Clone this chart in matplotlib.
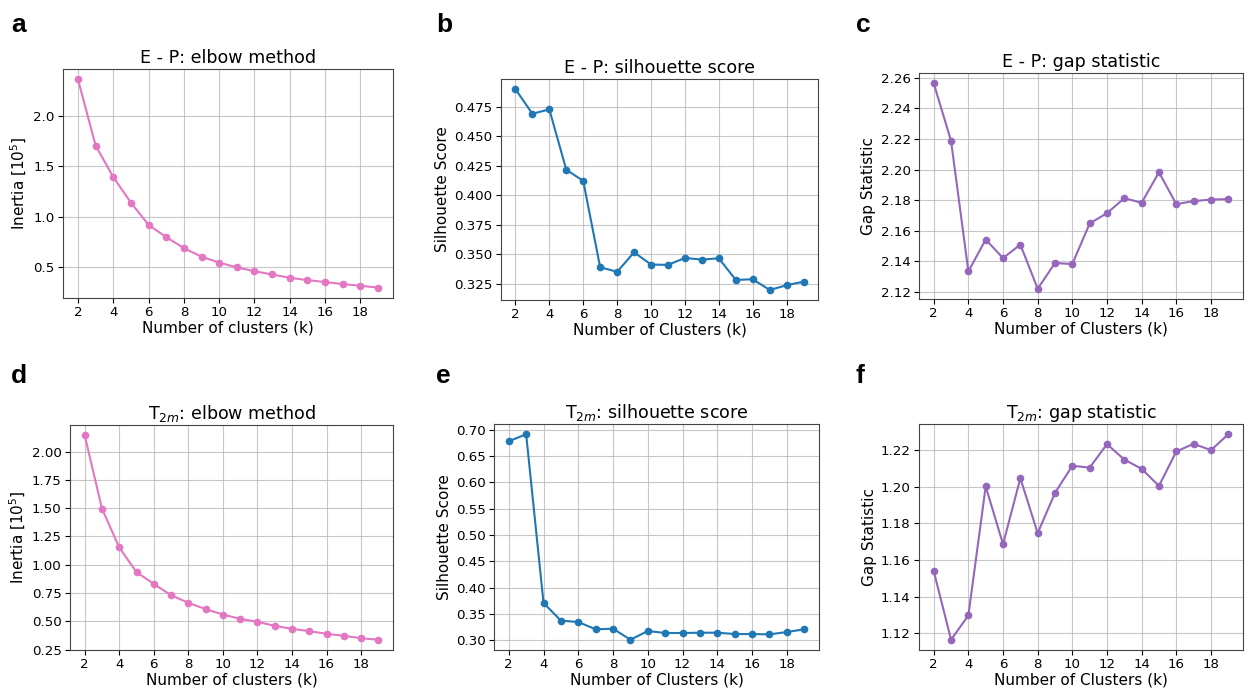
import matplotlib
matplotlib.use("Agg")
import matplotlib.pyplot as plt
from matplotlib.ticker import FormatStrFormatter, MultipleLocator

k = list(range(2, 20))

ep_inertia = [2.36, 1.705, 1.393, 1.14, 0.92, 0.80, 0.69, 0.606, 0.547, 0.50, 0.462, 0.43,
              0.397, 0.374, 0.355, 0.335, 0.318, 0.30]
ep_silhouette = [0.4903, 0.4693, 0.4730, 0.4218, 0.4122, 0.3389, 0.3350, 0.3516, 0.3412, 0.3409,
                 0.3468, 0.3454, 0.3465, 0.3281, 0.3287, 0.3196, 0.3236, 0.3267]
ep_gap = [2.2563, 2.2187, 2.1335, 2.1543, 2.1422, 2.1510, 2.1222, 2.1390, 2.1383, 2.1648,
          2.1715, 2.1813, 2.1783, 2.1982, 2.1774, 2.1794, 2.1804, 2.1807]
t_inertia = [2.144, 1.496, 1.152, 0.934, 0.83, 0.730, 0.663, 0.607, 0.559, 0.521, 0.495, 0.459,
             0.433, 0.412, 0.389, 0.371, 0.350, 0.336]
t_silhouette = [0.6784, 0.6917, 0.3706, 0.3369, 0.3344, 0.3204, 0.3216, 0.3006, 0.3172, 0.3134,
                0.3134, 0.3140, 0.3140, 0.3114, 0.3114, 0.3108, 0.3153, 0.3204]
t_gap = [1.154, 1.1165, 1.1298, 1.2002, 1.1687, 1.2047, 1.1747, 1.1967, 1.2115, 1.2105, 1.2233,
         1.2149, 1.2098, 1.2005, 1.2193, 1.2235, 1.2200, 1.2287]

W, H = 1248, 691
fig = plt.figure(figsize=(W / 100, H / 100), dpi=100)

def box(l, t, r, b):
    return [l / W, 1 - b / H, (r - l) / W, (b - t) / H]

panels = [
    ("a", box(63, 69, 393, 298), ep_inertia, "#e377c2", "E - P: elbow method",
     "Inertia [10$^5$]", "Number of clusters (k)", "%.1f", 0.5),
    ("b", box(501, 79, 818, 300), ep_silhouette, "#1f77b4", "E - P: silhouette score",
     "Silhouette Score", "Number of Clusters (k)", "%.3f", 0.025),
    ("c", box(919, 73, 1243, 299), ep_gap, "#9467bd", "E - P: gap statistic",
     "Gap Statistic", "Number of Clusters (k)", "%.2f", 0.02),
    ("d", box(70, 425, 393, 650), t_inertia, "#e377c2", "T$_{2m}$: elbow method",
     "Inertia [10$^5$]", "Number of clusters (k)", "%.2f", 0.25),
    ("e", box(494, 424, 819, 650), t_silhouette, "#1f77b4", "T$_{2m}$: silhouette score",
     "Silhouette Score", "Number of Clusters (k)", "%.2f", 0.05),
    ("f", box(919, 424, 1243, 650), t_gap, "#9467bd", "T$_{2m}$: gap statistic",
     "Gap Statistic", "Number of Clusters (k)", "%.2f", 0.02),
]

letter_pos = {"a": (11, 32), "b": (436, 32), "c": (856, 32),
              "d": (11, 383), "e": (436, 383), "f": (856, 383)}

for letter, rect, vals, color, title, ylabel, xlabel, fmt, step in panels:
    ax = fig.add_axes(rect)
    ax.plot(k, vals, marker="o", color=color, linewidth=1.5, markersize=4.5)
    ax.set_title(title, fontsize=12.6, pad=4)
    ax.set_ylabel(ylabel, fontsize=11, labelpad=3)
    ax.set_xlabel(xlabel, fontsize=11, labelpad=1)
    ax.set_xticks(list(range(2, 20, 2)))
    ax.yaxis.set_major_locator(MultipleLocator(step))
    ax.yaxis.set_major_formatter(FormatStrFormatter(fmt))
    ax.tick_params(labelsize=9.6, pad=2.5)
    ax.grid(True, color="#b0b0b0", linewidth=0.8, alpha=0.7)
    for s in ax.spines.values():
        s.set_color("#444444")
    lx, ly = letter_pos[letter]
    fig.text(lx / W, 1 - ly / H, letter, fontsize=19, fontweight="bold",
             family="Liberation Sans", va="baseline", ha="left")

fig.savefig("out.png", dpi=100)
